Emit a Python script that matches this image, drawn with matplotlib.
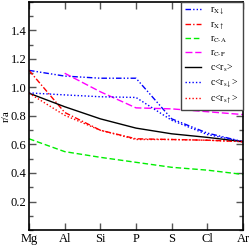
import numpy as np
import matplotlib
matplotlib.use("Agg")
import matplotlib.pyplot as plt
from matplotlib.ticker import MultipleLocator

plt.rcParams['font.family'] = ['Liberation Serif', 'DejaVu Serif']
plt.rcParams['mathtext.fontset'] = 'stix'

# elements along the row
elements = ['Mg', 'Al', 'Si', 'P', 'S', 'Cl', 'Ar']

# radii over lattice constant
r_x_down = [1.12, 1.08, 1.065, 1.065, 0.78, 0.68, 0.62]
r_x_up = [1.12, 0.825, 0.70, 0.64, 0.635, 0.63, 0.62]
r_c_a = [0.64, 0.55, 0.51, 0.475, 0.44, 0.42, 0.39]
r_c_p = [np.nan, 1.10, 0.97, 0.857, 0.85, 0.83, 0.81]
rs_mean = [0.96, 0.865, 0.78, 0.715, 0.675, 0.65, 0.62]
rs_down = [0.962, 0.948, 0.935, 0.93, 0.77, 0.67, 0.62]
rs_up = [0.96, 0.805, 0.70, 0.635, 0.635, 0.63, 0.62]

x = np.arange(len(elements))

fig = plt.figure(figsize=(2.5, 2.46), dpi=100)
ax = fig.add_axes([0.116, 0.065, 0.856, 0.927])

lw = 1.0
ax.plot(x, r_x_down, color='blue', lw=lw, linestyle=(0, (4, 1.5, 1, 1.5, 1, 1.5)), label=r'r$_{\mathrm{X}\downarrow}$')
ax.plot(x, r_x_up, color='red', lw=lw, linestyle=(0, (4, 1.5, 1, 1.5)), label=r'r$_{\mathrm{X}\uparrow}$')
ax.plot(x, r_c_a, color='#00ee00', lw=lw, linestyle=(0, (4, 2)), label=r'r$_{\mathrm{C\text{-}A}}$')
ax.plot(x, r_c_p, color='magenta', lw=lw, linestyle=(0, (5, 2)), label=r'r$_{\mathrm{C\text{-}P}}$')
ax.plot(x, rs_mean, color='black', lw=lw, label=r'c<r$_{\mathrm{s}}$>')
ax.plot(x, rs_down, color='blue', lw=lw, linestyle=(0, (1, 1.5)), label=r'c<r$_{\mathrm{s}\downarrow}$>')
ax.plot(x, rs_up, color='red', lw=lw, linestyle=(0, (1, 1.5)), label=r'c<r$_{\mathrm{s}\uparrow}$>')

ax.set_xlim(0, 6)
ax.set_ylim(0, 1.6)
ax.set_xticks(x)
ax.set_xticklabels(elements, fontsize=9)
ax.yaxis.set_minor_locator(MultipleLocator(0.1))
ax.set_yticks([0.2, 0.4, 0.6, 0.8, 1.0, 1.2, 1.4])
ax.set_yticklabels(['0.2', '0.4', '0.6', '0.8', '1.0', '1.2', '1.4'], fontsize=9)
ax.tick_params(which='both', direction='in', top=True, right=True, pad=2)
ax.tick_params(which='major', length=5, width=1, color='#555555')
ax.tick_params(which='minor', length=3, width=1, color='#555555')
for s in ax.spines.values():
    s.set_linewidth(1.2)
ax.set_ylabel('r/a', fontsize=8, labelpad=0)

leg = ax.legend(loc='upper right', fontsize=7, frameon=True, fancybox=False,
                borderaxespad=0, handlelength=1.7, labelspacing=0.3,
                handletextpad=0.9, borderpad=0.4, framealpha=1)
leg.get_frame().set_edgecolor('#444444')
leg.get_frame().set_linewidth(1.0)

fig.savefig('out.png', dpi=100)
